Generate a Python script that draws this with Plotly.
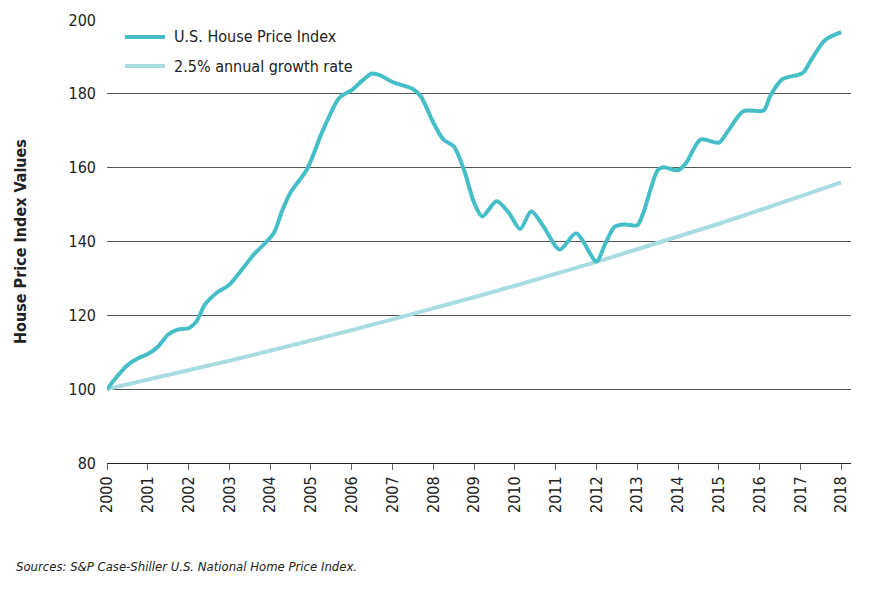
import plotly.graph_objects as go

# U.S. House Price Index
hpi_x = [2000.0, 2000.25, 2000.5, 2000.75, 2001.0, 2001.25, 2001.5, 2001.75, 2002.0, 2002.2,
         2002.4, 2002.7, 2003.0, 2003.3, 2003.6, 2003.9, 2004.1, 2004.3, 2004.5, 2004.9,
         2005.3, 2005.7, 2006.0, 2006.25, 2006.5, 2006.7, 2007.0, 2007.5, 2007.7, 2008.0,
         2008.25, 2008.5, 2008.75, 2009.0, 2009.2, 2009.55, 2009.85, 2010.13, 2010.4, 2010.7,
         2011.1, 2011.5, 2012.0, 2012.2, 2012.45, 2012.7, 2013.0, 2013.15, 2013.5, 2013.64,
         2014.0, 2014.2, 2014.55, 2015.0, 2015.2, 2015.6, 2016.1, 2016.25, 2016.55, 2017.05,
         2017.25, 2017.6, 2018.0]
hpi_y = [100, 103.5, 106.5, 108.3, 109.5, 111.5, 114.8, 116.2, 116.5, 118.5,
         122.9, 126.2, 128.3, 132.3, 136.5, 139.8, 142.5, 148.5, 153.3, 159.5,
         170.3, 179.0, 181.0, 183.5, 185.5, 185.0, 183.2, 181.3, 179.2, 172.2,
         167.6, 165.8, 159.5, 150.5, 146.8, 150.9, 147.8, 143.4, 148.2, 144.1,
         137.8, 142.2, 134.6, 139.0, 144.0, 144.6, 144.4, 147.8, 159.3, 160.1,
         159.3, 161.3, 167.6, 166.8, 169.5, 175.3, 175.5, 179.2, 183.9, 185.6,
         188.9, 194.5, 196.7]

# 2.5% annual growth rate line
growth_x = [2000, 2001, 2002, 2003, 2004, 2005, 2006, 2007, 2008, 2009,
            2010, 2011, 2012, 2013, 2014, 2015, 2016, 2017, 2018]
growth_y = [100, 102.5, 105.1, 107.7, 110.4, 113.1, 116.0, 118.9, 121.8, 124.9,
            128.0, 131.2, 134.5, 137.9, 141.3, 144.8, 148.5, 152.2, 156.0]

x_ticks = list(range(2000, 2019))
y_ticks = [80, 100, 120, 140, 160, 180, 200]
series_names = ["U.S. House Price Index", "2.5% annual growth rate"]

FONT = "DejaVu Sans Condensed, Liberation Sans, sans-serif"
HPI_COLOR = "#45BEC8"
GROWTH_COLOR = "#A9DCE1"
TEXT = "#222"

fig = go.Figure()
fig.add_trace(go.Scatter(x=growth_x, y=growth_y, mode="lines", name=series_names[1],
                         line=dict(color=GROWTH_COLOR, width=4), showlegend=False))
fig.add_trace(go.Scatter(x=hpi_x, y=hpi_y, mode="lines", name=series_names[0],
                         line=dict(color=HPI_COLOR, width=4, shape="spline", smoothing=0.8),
                         showlegend=False))

fig.update_layout(
    width=874, height=577,
    margin=dict(l=99, r=31, t=12, b=122),
    paper_bgcolor="white", plot_bgcolor="white",
    font=dict(family=FONT, size=16, color=TEXT),
    showlegend=False,
    xaxis=dict(range=[2000, 2018.24], tickmode="array", tickvals=x_ticks,
               ticktext=[str(t) for t in x_ticks], tickangle=-90, automargin=False,
               ticks="outside", ticklen=6, tickcolor="#666", showgrid=False,
               showline=True, linecolor="#222", linewidth=1, zeroline=False,
               tickfont=dict(family=FONT, size=16, color=TEXT)),
    yaxis=dict(range=[80, 200], tickmode="array", tickvals=y_ticks, automargin=False,
               showgrid=True, gridcolor="#555", gridwidth=1, zeroline=False,
               showline=False, ticks="", ticklabelstandoff=10,
               title=dict(text="<b>House Price Index Values</b>", standoff=37,
                          font=dict(family=FONT, size=16, color=TEXT)),
               tickfont=dict(family=FONT, size=16, color=TEXT)),
)

# Legend drawn manually (paper coordinates)
PW, PH = 744.0, 443.0
def px(x):
    return (x - 107) / PW
def py(y):
    return (463 - y) / PH

for name, color, yy in [(series_names[0], HPI_COLOR, 37), (series_names[1], GROWTH_COLOR, 66)]:
    fig.add_shape(type="line", xref="paper", yref="paper", x0=px(125), x1=px(165), y0=py(yy), y1=py(yy),
                  line=dict(color=color, width=4))
    fig.add_annotation(text=name, xref="paper", yref="paper", x=px(172), y=py(yy),
                       xanchor="left", yanchor="middle", showarrow=False,
                       font=dict(family=FONT, size=16, color=TEXT))

fig.add_annotation(text="<i>Sources: S&P Case-Shiller U.S. National Home Price Index.</i>",
                   xref="paper", yref="paper", x=px(14), y=py(566), xanchor="left", yanchor="middle",
                   showarrow=False, font=dict(family=FONT, size=13, color=TEXT))

fig.add_shape(type="line", xref="paper", yref="paper", x0=px(878), x1=px(878), y0=py(585), y1=py(8),
              layer="above", line=dict(color="#999", width=2))

fig.write_html("out.html")
